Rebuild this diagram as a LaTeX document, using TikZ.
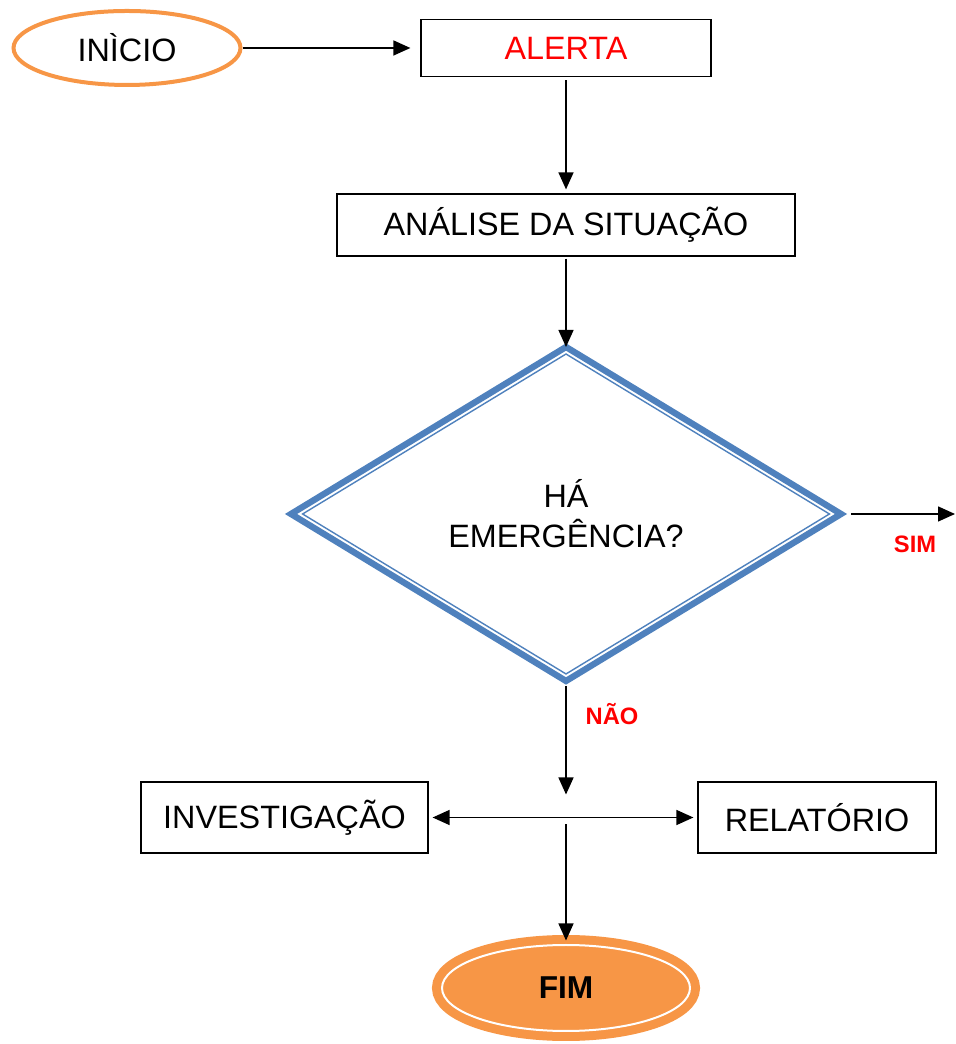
\documentclass[tikz,border=0pt]{standalone}
\usepackage{fontspec}
\setmainfont{Liberation Sans}
\usepackage{tikz}
\usetikzlibrary{shapes.geometric,arrows.meta}
\definecolor{fluxorange}{HTML}{F79646}
\definecolor{fluxblue}{HTML}{4F81BD}

\begin{document}
\begin{tikzpicture}[
    texto/.style={font=\fontsize{18.4}{22.8}\selectfont},
    box/.style={texto,draw,line width=0.7pt,rectangle,inner sep=0pt},
    ponta/.style={line width=0.8pt,arrows={-{Triangle[length=0.34cm,width=0.3cm]}}},
    ponta2/.style={line width=0.8pt,arrows={{Triangle[length=0.34cm,width=0.3cm]}-{Triangle[length=0.34cm,width=0.3cm]}}},
    rotulo/.style={text=red,inner sep=0pt,font=\fontsize{13.5}{16}\selectfont\bfseries}
]
    \useasboundingbox (0,0) rectangle (19.1,20.88);

    \node[texto,ellipse,draw=fluxorange,line width=0.08cm,minimum width=4.54cm,minimum height=1.48cm] (inicio) at (2.54,19.92) {INÌCIO};
    \node[box,minimum width=5.8cm,minimum height=1.14cm,text=red] (alerta) at (11.32,19.92) {ALERTA};
    \node[box,minimum width=9.16cm,minimum height=1.24cm] (analise) at (11.32,16.38) {ANÁLISE DA SITUAÇÃO};

    \node[texto,diamond,draw=fluxblue,line width=3.6pt,outer sep=0pt,inner sep=0pt,minimum width=11.0cm,minimum height=6.68cm,align=center] (dec) at (11.32,10.6) {HÁ\\EMERGÊNCIA?};
    \draw[fluxblue,line width=0.8pt] ([yshift=-4pt]dec.north)--([xshift=-6.6pt]dec.east)--([yshift=4pt]dec.south)--([xshift=6.6pt]dec.west)--cycle;

    \node[box,minimum width=5.74cm,minimum height=1.42cm] (invest) at (5.69,4.53) {INVESTIGAÇÃO};
    \node[box,minimum width=4.76cm,minimum height=1.42cm] (relat) at (16.34,4.53) {RELATÓRIO};
    \node[texto,ellipse,draw=fluxorange,fill=fluxorange,line width=0.18cm,double=white,double distance=0.04cm,minimum width=4.96cm,minimum height=1.72cm,font=\fontsize{18}{20}\selectfont\bfseries] (fim) at (11.32,1.12) {FIM};

    \coordinate (simfim) at (19.1,10.6);
    \coordinate (split) at (11.32,4.53);

    \draw[ponta,shorten >=0.2cm] (inicio) -- (alerta);
    \draw[ponta,shorten >=0.08cm,shorten <=0.06cm] (alerta) -- (analise);
    \draw[ponta,shorten <=0.04cm] (analise) -- (dec.north);
    \draw[ponta,shorten <=0.2cm] (dec.east) -- (simfim);
    \draw[ponta,shorten <=0.1cm,shorten >=0.46cm] (dec.south) -- (split);
    \draw[ponta2,shorten <=0.08cm,shorten >=0.08cm] (invest) -- (relat);
    \draw[ponta,shorten <=0.14cm] (split) -- (fim);

    \node[rotulo] (sim) at (18.3,10.0) {SIM};
    \node[rotulo] (nao) at (12.24,6.6) {NÃO};

\end{tikzpicture}
\end{document}
